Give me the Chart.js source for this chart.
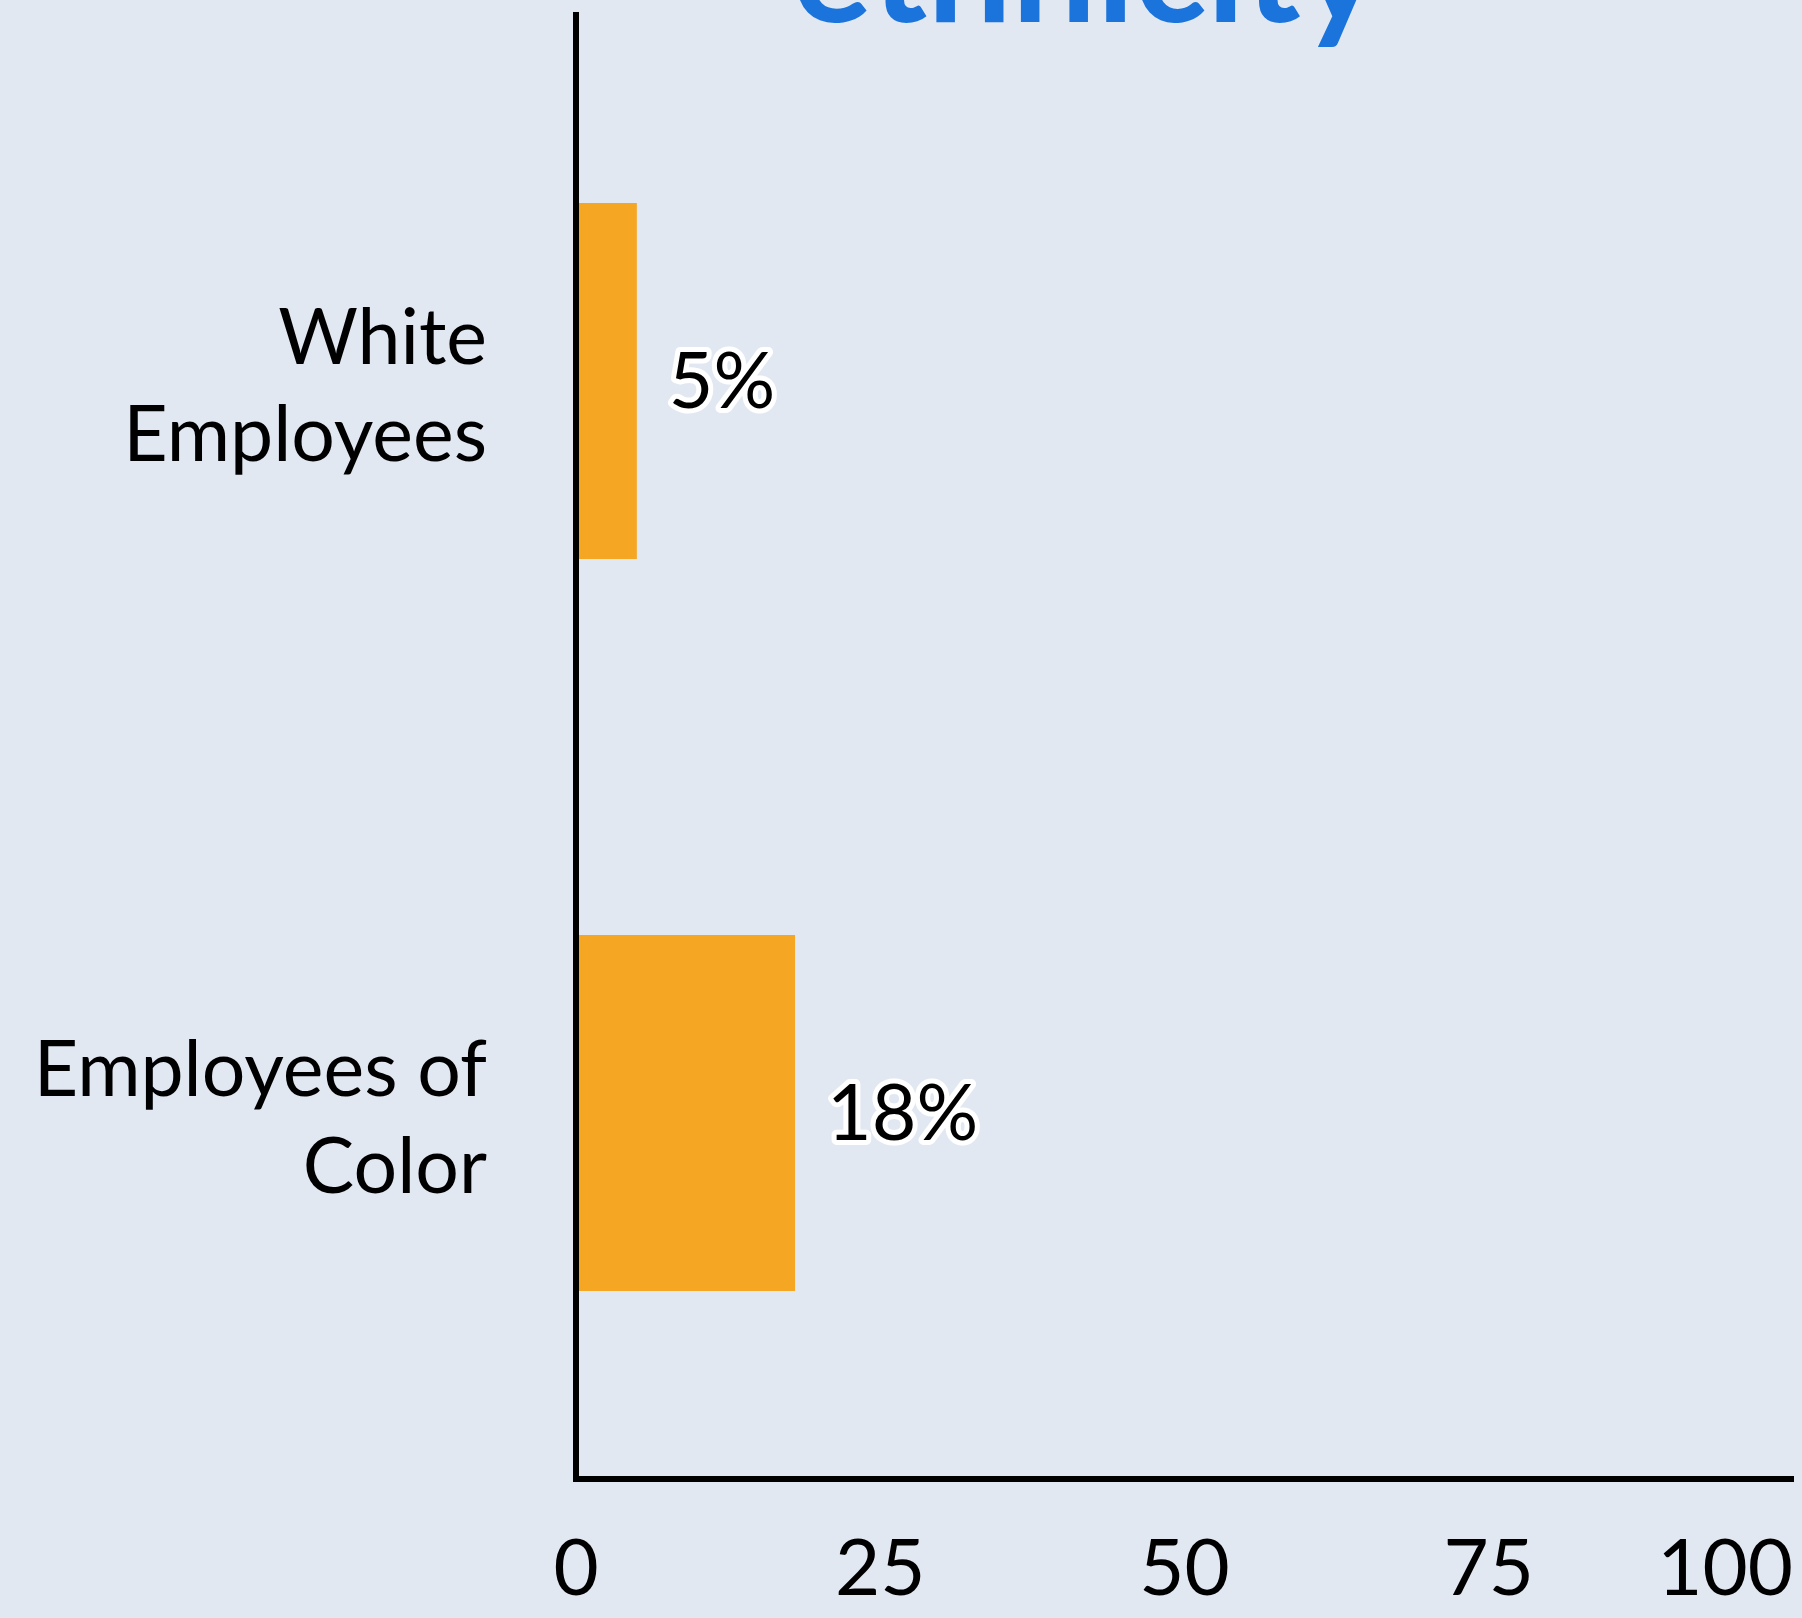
<!DOCTYPE html>
<html>
<head>
<meta charset="utf-8">
<script src="https://cdn.jsdelivr.net/npm/chart.js@4.4.0/dist/chart.umd.min.js"></script>
<style>
  html, body { margin: 0; padding: 0; background: #e1e8f2; }
  canvas { display: block; }
</style>
</head>
<body>
<canvas id="chart" width="1802" height="1618"></canvas>
<script>
// Share of employees by ethnicity (percent)
const categories = [['White', 'Employees'], ['Employees of', 'Color']];
const shares = [5, 18];
const xTicks = [0, 25, 50, 75, 100];
const titleText = 'ethnicity';

const BAR = '#f5a623';
const TITLE_BLUE = '#1b74dc';

// Percent labels to the right of each bar, white-outlined text
const valueLabels = {
  id: 'valueLabels',
  afterDatasetsDraw(chart) {
    const ctx = chart.ctx;
    const meta = chart.getDatasetMeta(0);
    ctx.save();
    ctx.font = '77px Lato';
    ctx.textAlign = 'left';
    ctx.textBaseline = 'middle';
    ctx.lineJoin = 'round';
    ctx.lineWidth = 10;
    ctx.strokeStyle = '#ffffff';
    ctx.fillStyle = '#000000';
    meta.data.forEach((bar, i) => {
      const text = shares[i] + '%';
      const x = bar.x + 32;
      const y = bar.y + 2;
      ctx.strokeText(text, x, y);
      ctx.fillText(text, x, y);
    });
    ctx.restore();
  }
};

// Heading line running off the top edge
const heading = {
  id: 'heading',
  afterDraw(chart) {
    const ctx = chart.ctx;
    ctx.save();
    ctx.font = 'bold 150px Lato';
    ctx.fillStyle = TITLE_BLUE;
    ctx.textAlign = 'center';
    ctx.textBaseline = 'alphabetic';
    ctx.fillText(titleText, 1086, 22);
    ctx.restore();
  }
};

// Keep the last x tick label inside the canvas by right-aligning it
const edgeTick = {
  id: 'edgeTick',
  beforeDraw(chart) {
    const items = chart.scales.x.getLabelItems();
    const last = items[items.length - 1];
    if (last) last.options.textAlign = 'right';
  }
};

new Chart(document.getElementById('chart'), {
  type: 'bar',
  data: {
    labels: categories,
    datasets: [{
      data: shares,
      backgroundColor: BAR,
      borderWidth: 0,
      categoryPercentage: 1,
      barPercentage: 0.486
    }]
  },
  options: {
    indexAxis: 'y',
    responsive: false,
    animation: false,
    events: [],
    layout: { padding: { left: 0, right: 9, top: 15, bottom: 0 } },
    plugins: {
      legend: { display: false },
      tooltip: { enabled: false },
      title: { display: false }
    },
    scales: {
      x: {
        type: 'linear',
        min: 0,
        max: 100,
        afterBuildTicks: s => { s.ticks = xTicks.map(v => ({ value: v })); },
        afterFit: s => { s.height = 1618 - 1479; s.paddingRight = 0; s.paddingLeft = 0; },
        grid: { display: false, drawTicks: false },
        border: { display: true, color: '#000000', width: 6, z: 1 },
        ticks: {
          color: '#000000',
          padding: 44,
          font: { family: 'Lato', size: 78 }
        }
      },
      y: {
        type: 'category',
        offset: true,
        afterFit: s => { s.width = 576; s.paddingTop = 0; s.paddingBottom = 0; },
        grid: { display: false, drawTicks: false },
        border: { display: true, color: '#000000', width: 6, z: 1 },
        ticks: {
          color: '#000000',
          padding: 89,
          labelOffset: 7,
          font: { family: 'Lato', size: 77, lineHeight: 1.26 }
        }
      }
    }
  },
  plugins: [valueLabels, heading, edgeTick]
});
</script>
</body>
</html>
